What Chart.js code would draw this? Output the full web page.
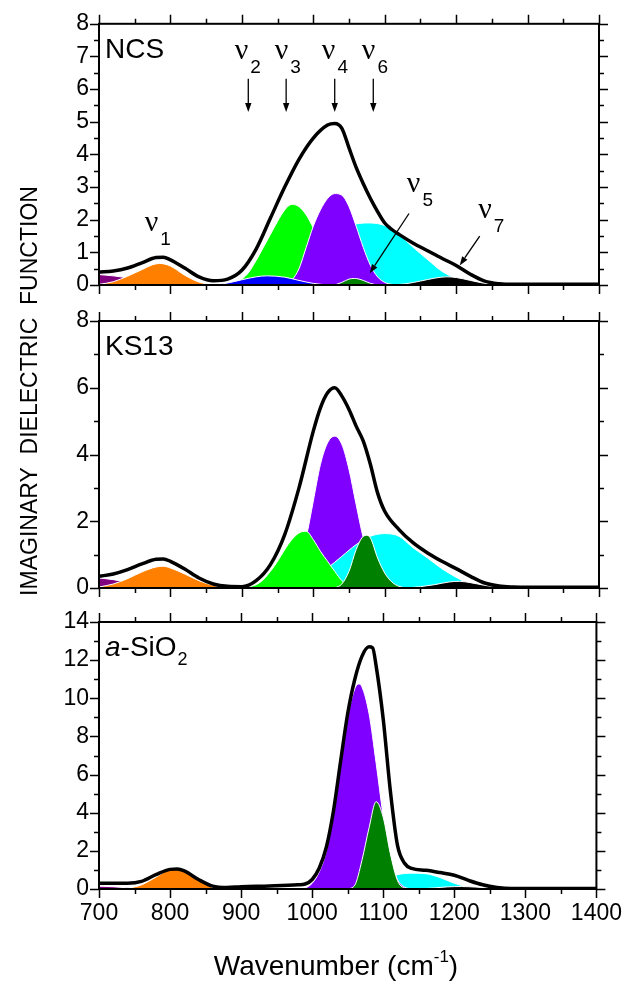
<!DOCTYPE html>
<html>
<head>
<meta charset="utf-8">
<script src="https://cdn.jsdelivr.net/npm/chart.js@4.4.1/dist/chart.umd.min.js"></script>
<style>
  html, body { margin: 0; padding: 0; background: #fff; }
  #wrap { position: relative; width: 633px; height: 983px; }
  #wrap canvas { position: absolute; left: 0; top: 0; }
</style>
</head>
<body>
<div id="wrap">
  <canvas id="ncs" width="633" height="983"></canvas>
  <canvas id="ks13" width="633" height="983"></canvas>
  <canvas id="sio2" width="633" height="983"></canvas>
</div>
<script>
// axis ticks
const xTicks = [700, 800, 900, 1000, 1100, 1200, 1300, 1400];
const xMinor = [750, 850, 950, 1050, 1150, 1250, 1350];
const ncsYTicks = [0, 1, 2, 3, 4, 5, 6, 7, 8];
const ncsYMinor = [0.5, 1.5, 2.5, 3.5, 4.5, 5.5, 6.5, 7.5];
const ksYTicks = [0, 2, 4, 6, 8];
const ksYMinor = [1, 3, 5, 7];
const sioYTicks = [0, 2, 4, 6, 8, 10, 12, 14];
const sioYMinor = [1, 3, 5, 7, 9, 11, 13];

// NCS: [wavenumber, eps2]
const ncsTotal = [[700,0.40],[720,0.43],[740,0.52],[760,0.68],[780,0.84],[790,0.85],[800,0.77],[820,0.52],[840,0.25],[860,0.13],[880,0.18],[900,0.45],[920,1.1],[940,2.05],[960,3.0],[980,3.85],[1000,4.5],[1020,4.9],[1030,4.95],[1040,4.8],[1050,4.2],[1060,3.6],[1070,3.1],[1080,2.65],[1090,2.25],[1100,1.9],[1110,1.7],[1120,1.55],[1140,1.28],[1160,1.05],[1180,0.82],[1200,0.6],[1220,0.33],[1240,0.12],[1260,0.04],[1280,0.02],[1400,0.02]];
const ncsNu0 = [[700,0.32],[720,0.28],[740,0.22],[760,0.15],[780,0.08],[800,0.03],[820,0]];
const ncsNu1 = [[700,0.02],[720,0.1],[740,0.27],[760,0.47],[775,0.62],[785,0.66],[800,0.58],[820,0.3],[840,0.09],[860,0.01],[880,0]];
const ncsNu2 = [[860,0],[880,0.06],[900,0.16],[920,0.25],[935,0.28],[960,0.24],[980,0.14],[1000,0.05],[1020,0]];
const ncsNu3 = [[880,0],[900,0.18],[910,0.4],[920,0.75],[930,1.15],[940,1.55],[950,1.95],[960,2.3],[970,2.47],[980,2.4],[990,2.15],[1000,1.75],[1010,1.3],[1020,0.85],[1030,0.5],[1040,0.25],[1060,0.04],[1080,0]];
const ncsNu4 = [[960,0],[970,0.15],[980,0.5],[990,1.15],[1000,1.8],[1010,2.3],[1020,2.65],[1030,2.8],[1040,2.75],[1050,2.4],[1060,1.8],[1070,1.15],[1080,0.6],[1090,0.25],[1100,0.08],[1110,0.02],[1120,0]];
const ncsNu5 = [[1030,0],[1040,0.08],[1050,0.18],[1058,0.2],[1070,0.14],[1080,0.05],[1090,0]];
const ncsNu6 = [[1000,0],[1020,0.9],[1040,1.55],[1060,1.87],[1080,1.9],[1100,1.82],[1120,1.55],[1140,1.15],[1160,0.78],[1180,0.42],[1200,0.2],[1220,0.06],[1240,0]];
const ncsNu7 = [[1110,0],[1130,0.04],[1150,0.12],[1170,0.21],[1187,0.25],[1200,0.23],[1220,0.14],[1240,0.05],[1260,0]];

// KS13
const ksTotal = [[700,0.35],[720,0.42],[740,0.55],[760,0.72],[780,0.86],[790,0.87],[800,0.8],[820,0.57],[840,0.3],[860,0.12],[880,0.05],[900,0.04],[920,0.22],[940,0.7],[960,1.6],[980,3.0],[1000,4.7],[1010,5.4],[1020,5.85],[1030,6.0],[1040,5.75],[1050,5.35],[1060,4.85],[1070,4.4],[1080,3.7],[1090,2.85],[1100,2.3],[1120,1.75],[1140,1.35],[1160,1.05],[1180,0.8],[1200,0.58],[1220,0.35],[1240,0.15],[1260,0.06],[1280,0.03],[1300,0.02],[1400,0.02]];
const ksNu0 = [[700,0.3],[720,0.25],[740,0.17],[760,0.09],[780,0.03],[800,0]];
const ksNu1 = [[700,0.03],[720,0.12],[740,0.28],[760,0.48],[780,0.63],[790,0.65],[800,0.6],[820,0.42],[840,0.22],[860,0.08],[880,0.02],[900,0]];
const ksNu3 = [[900,0],[920,0.1],[930,0.25],[940,0.5],[950,0.8],[960,1.15],[970,1.45],[980,1.65],[990,1.7],[1000,1.45],[1010,1.1],[1020,0.8],[1030,0.5],[1040,0.22],[1050,0.08],[1060,0.01],[1070,0]];
const ksNu4 = [[960,0],[975,0.3],[990,1.5],[1000,2.6],[1010,3.7],[1020,4.35],[1030,4.55],[1040,4.3],[1050,3.55],[1060,2.5],[1070,1.5],[1080,0.8],[1090,0.35],[1100,0.12],[1120,0]];
const ksNu5 = [[1030,0],[1040,0.12],[1050,0.5],[1060,1.15],[1068,1.5],[1074,1.58],[1080,1.5],[1090,0.9],[1100,0.45],[1110,0.18],[1120,0.05],[1130,0]];
const ksNu6 = [[980,0],[1000,0.3],[1020,0.6],[1040,0.95],[1060,1.3],[1080,1.55],[1100,1.63],[1120,1.55],[1140,1.2],[1160,0.9],[1180,0.58],[1200,0.32],[1220,0.12],[1240,0.03],[1260,0]];
const ksNu7 = [[1130,0],[1150,0.04],[1170,0.1],[1190,0.18],[1205,0.2],[1220,0.16],[1240,0.08],[1260,0.02],[1280,0]];

// a-SiO2
const sioTotal = [[700,0.3],[720,0.3],[740,0.3],[760,0.4],[780,0.75],[800,1.03],[810,1.05],[820,0.95],[840,0.5],[860,0.15],[880,0.08],[900,0.12],[940,0.16],[980,0.22],[990,0.26],[1000,0.5],[1010,1.1],[1020,2.2],[1030,4.1],[1040,6.7],[1050,9.2],[1060,11.0],[1070,12.2],[1080,12.7],[1085,12.65],[1090,11.7],[1100,8.9],[1110,5.15],[1120,2.3],[1130,1.35],[1140,1.08],[1160,0.98],[1180,0.86],[1200,0.72],[1220,0.45],[1240,0.22],[1260,0.08],[1280,0.02],[1400,0.02]];
const sioNu0 = [[700,0.15],[720,0.12],[740,0.06],[760,0.01],[780,0]];
const sioNu1 = [[740,0.02],[760,0.22],[780,0.62],[795,0.95],[805,1.03],[815,0.98],[830,0.72],[845,0.35],[860,0.08],[880,0]];
const sioNu4 = [[980,0],[990,0.05],[1000,0.3],[1010,0.9],[1020,2.0],[1030,4.0],[1040,6.6],[1050,9.0],[1060,10.5],[1066,10.75],[1070,10.6],[1080,9.2],[1090,6.6],[1100,3.8],[1110,1.6],[1120,0.5],[1130,0.1],[1140,0]];
const sioNu5 = [[1050,0],[1060,0.2],[1070,1.5],[1080,3.2],[1090,4.58],[1100,3.75],[1110,1.85],[1120,0.45],[1130,0.05],[1140,0]];
const sioNu6 = [[1080,0],[1100,0.45],[1120,0.75],[1140,0.83],[1160,0.8],[1180,0.6],[1200,0.3],[1220,0.1],[1240,0.02],[1260,0]];
const sioNu7 = [[1150,0],[1170,0.05],[1190,0.11],[1210,0.13],[1230,0.1],[1250,0.05],[1270,0.01],[1290,0]];

// band labels and arrows in the NCS panel (data units)
const ncsNuLabels = [['1',764,1.65],['2',890,6.92],['3',946,6.92],['4',1012,6.92],['6',1068,6.92],['5',1131,2.84],['7',1231,2.04]];
const ncsArrows = [[909,6.32,909,5.3],[962,6.32,962,5.3],[1030,6.32,1030,5.3],[1084,6.32,1084,5.3],[1134,2.19,1079,0.36],[1233,1.5,1205,0.6]];

const DARK_PURPLE = '#800080', ORANGE = '#ff8000', BLUE = '#0000ff', GREEN = '#00ff00';
const VIOLET = '#8000ff', CYAN = '#00ffff', DARK_GREEN = '#008000', BLACK = '#000000';

const FONT = "'Liberation Sans', Arial, Helvetica, sans-serif";
Chart.defaults.font.family = FONT;
Chart.defaults.color = '#000';

function toPoints(pairs) {
    return pairs.map(([x, y]) => ({ x, y }));
}

function richWidth(ctx, parts) {
    let w = 0;
    for (const p of parts) {
        ctx.font = (p.italic ? 'italic ' : '') + p.size + 'px ' + (p.family || FONT);
        w += (p.dx || 0) + ctx.measureText(p.text).width;
    }
    return w;
}

function drawRich(ctx, x, y, parts) {
    let cx = x;
    for (const p of parts) {
        ctx.font = (p.italic ? 'italic ' : '') + p.size + 'px ' + (p.family || FONT);
        cx += p.dx || 0;
        ctx.fillText(p.text, cx, y + (p.dy || 0));
        cx += ctx.measureText(p.text).width;
    }
}

function drawArrow(ctx, x1, y1, x2, y2) {
    const ang = Math.atan2(y2 - y1, x2 - x1);
    const head = 9, half = 3.2;
    const bx = x2 - head * Math.cos(ang), by = y2 - head * Math.sin(ang);
    ctx.lineWidth = 1.3;
    ctx.beginPath();
    ctx.moveTo(x1, y1);
    ctx.lineTo(bx, by);
    ctx.stroke();
    ctx.beginPath();
    ctx.moveTo(x2, y2);
    ctx.lineTo(bx + half * Math.sin(ang), by - half * Math.cos(ang));
    ctx.lineTo(bx - half * Math.sin(ang), by + half * Math.cos(ang));
    ctx.closePath();
    ctx.fill();
}

function nuParts(sub) {
    return [
        { text: 'ν', size: 30, family: "'Liberation Serif', 'Times New Roman', serif" },
        { text: sub, size: 19, dx: 2, dy: 14 },
    ];
}

const framePlugin = {
    id: 'frame',
    afterDraw(chart, args, o) {
        const { ctx, chartArea: a, scales: { x, y } } = chart;
        ctx.save();
        ctx.strokeStyle = '#000';
        ctx.fillStyle = '#000';
        ctx.lineWidth = 1.5;
        ctx.beginPath();
        const vTick = (v, len) => {
            const px = Math.round(x.getPixelForValue(v)) + 0.5;
            ctx.moveTo(px, a.bottom); ctx.lineTo(px, a.bottom + len);
            ctx.moveTo(px, a.top); ctx.lineTo(px, a.top - len);
        };
        const hTick = (v, len) => {
            const py = Math.round(y.getPixelForValue(v)) + 0.5;
            ctx.moveTo(a.left, py); ctx.lineTo(a.left - len, py);
            ctx.moveTo(a.right, py); ctx.lineTo(a.right + len, py);
        };
        xTicks.forEach(v => vTick(v, 9));
        xMinor.forEach(v => vTick(v, 5));
        o.yTicks.forEach(v => hTick(v, 9));
        o.yMinor.forEach(v => hTick(v, 5));
        ctx.stroke();
        ctx.lineWidth = 2;
        ctx.strokeRect(a.left, a.top, a.right - a.left, a.bottom - a.top);

        // panel name
        ctx.textBaseline = 'alphabetic';
        ctx.textAlign = 'left';
        drawRich(ctx, a.left + 6, a.top + 34, o.name);

        if (o.nu) {
            o.nu.forEach(([sub, vx, vy]) => {
                drawRich(ctx, x.getPixelForValue(vx), y.getPixelForValue(vy), nuParts(sub));
            });
            o.arrows.forEach(([x1, y1, x2, y2]) => {
                drawArrow(ctx, x.getPixelForValue(x1), y.getPixelForValue(y1),
                    x.getPixelForValue(x2), y.getPixelForValue(y2));
            });
        }

        if (o.axisTitles) {
            const xt = [
                { text: 'Wavenumber (cm', size: 28 },
                { text: '-1', size: 17, dy: -13 },
                { text: ')', size: 28 },
            ];
            const w = richWidth(ctx, xt);
            drawRich(ctx, 336 - w / 2, 975, xt);

            ctx.save();
            ctx.translate(37, 391);
            ctx.rotate(-Math.PI / 2);
            ctx.font = '23px ' + FONT;
            ctx.textAlign = 'center';
            ctx.fillText('IMAGINARY  DIELECTRIC  FUNCTION', 0, 0);
            ctx.restore();
        }
        ctx.restore();
    },
};

function makePanel(id, layers, total, yTicks, yMinor, top, bottom, extra) {
    const isBottom = !!extra.axisTitles;
    const datasets = layers.map(([pts, color], i) => ({
        data: toPoints(pts),
        backgroundColor: color,
        borderColor: '#ffffff',
        borderWidth: 1,
        fill: 'origin',
        pointRadius: 0,
        cubicInterpolationMode: 'monotone',
        order: layers.length + 1 - i,
    }));
    datasets.push({
        data: toPoints(total),
        borderColor: '#000',
        borderWidth: 3.5,
        fill: false,
        pointRadius: 0,
        cubicInterpolationMode: 'monotone',
        order: 0,
    });

    return new Chart(document.getElementById(id), {
        type: 'line',
        data: { datasets },
        options: {
            responsive: false,
            animation: false,
            events: [],
            layout: { padding: { left: 0, right: 34, top, bottom: isBottom ? 0 : 983 - bottom } },
            plugins: {
                legend: { display: false },
                tooltip: { enabled: false },
                frame: Object.assign({ yTicks, yMinor }, extra),
            },
            scales: {
                x: {
                    type: 'linear',
                    min: 700,
                    max: 1400,
                    grid: { display: false, drawTicks: false },
                    border: { display: false },
                    ticks: {
                        display: isBottom,
                        font: { size: 23 },
                        padding: 11,
                        autoSkip: false,
                        maxRotation: 0,
                        callback: v => String(v),
                    },
                    afterBuildTicks: s => { s.ticks = xTicks.map(v => ({ value: v })); },
                    afterFit: s => { s.height = isBottom ? 983 - bottom : 0; },
                },
                y: {
                    min: 0,
                    max: yTicks[yTicks.length - 1],
                    grid: { display: false, drawTicks: false },
                    border: { display: false },
                    ticks: { font: { size: 23 }, padding: 10, callback: v => String(v) },
                    afterBuildTicks: s => { s.ticks = yTicks.map(v => ({ value: v })); },
                    afterFit: s => { s.width = 99; },
                },
            },
        },
        plugins: [framePlugin],
    });
}

makePanel('ncs',
    [[ncsNu0, DARK_PURPLE], [ncsNu1, ORANGE], [ncsNu3, GREEN], [ncsNu6, CYAN], [ncsNu4, VIOLET], [ncsNu2, BLUE], [ncsNu5, DARK_GREEN], [ncsNu7, BLACK]],
    ncsTotal, ncsYTicks, ncsYMinor, 18, 285,
    { name: [{ text: 'NCS', size: 28 }], nu: ncsNuLabels, arrows: ncsArrows });

makePanel('ks13',
    [[ksNu0, DARK_PURPLE], [ksNu1, ORANGE], [ksNu4, VIOLET], [ksNu6, CYAN], [ksNu3, GREEN], [ksNu5, DARK_GREEN], [ksNu7, BLACK]],
    ksTotal, ksYTicks, ksYMinor, 321, 588,
    { name: [{ text: 'KS13', size: 28 }] });

makePanel('sio2',
    [[sioNu0, DARK_PURPLE], [sioNu1, ORANGE], [sioNu6, CYAN], [sioNu4, VIOLET], [sioNu5, DARK_GREEN], [sioNu7, BLACK]],
    sioTotal, sioYTicks, sioYMinor, 622, 889,
    { name: [{ text: 'a', size: 28, italic: true }, { text: '-SiO', size: 28 }, { text: '2', size: 18, dx: 1, dy: 9 }], axisTitles: true });
</script>
</body>
</html>
